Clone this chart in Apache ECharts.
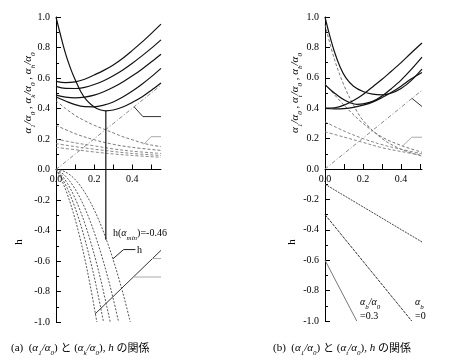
<!DOCTYPE html>
<html><head><meta charset="utf-8">
<script src="https://cdn.jsdelivr.net/npm/echarts@6/dist/echarts.min.js"></script>
<style>html,body{margin:0;padding:0;background:#fff}#c{width:450px;height:361px}</style>
</head><body><div id="c"></div>
<script>
// ---------- axis ticks ----------
const xTicks = [0, 0.1, 0.2, 0.3, 0.4, 0.5];
const xLabels = [0, 0.2, 0.4];
const xMaxA = 0.55, xMaxB = 0.51;

// ---------- panel (a): alpha1/alpha0 (solid) ----------
const aEnv = [[0,1.0],[0.02,0.9],[0.05,0.76],[0.08,0.65],[0.1,0.59],[0.13,0.51],[0.16,0.455],[0.2,0.41],[0.23,0.392],[0.261,0.385],[0.3,0.39],[0.35,0.41],[0.4,0.44],[0.45,0.475],[0.5,0.52],[0.55,0.567]];
const aB1 = [[0,0.578],[0.05,0.57],[0.1,0.575],[0.15,0.592],[0.2,0.62],[0.25,0.65],[0.3,0.686],[0.35,0.73],[0.4,0.781],[0.45,0.835],[0.5,0.893],[0.55,0.953]];
const aB2 = [[0,0.545],[0.05,0.532],[0.1,0.531],[0.15,0.539],[0.2,0.557],[0.25,0.582],[0.3,0.615],[0.35,0.653],[0.4,0.697],[0.45,0.745],[0.5,0.796],[0.55,0.85]];
const aB3 = [[0,0.488],[0.05,0.475],[0.1,0.47],[0.15,0.475],[0.2,0.488],[0.25,0.51],[0.3,0.539],[0.35,0.574],[0.4,0.614],[0.45,0.658],[0.5,0.706],[0.55,0.756]];
const aB4 = [[0,0.475],[0.05,0.449],[0.1,0.425],[0.15,0.412],[0.2,0.411],[0.25,0.422],[0.3,0.443],[0.35,0.475],[0.4,0.514],[0.45,0.559],[0.5,0.609],[0.55,0.663]];
// panel (a): alpha_k/alpha0 (dashed)
const aD1 = [[0,0.45],[0.05,0.4],[0.1,0.355],[0.15,0.32],[0.2,0.29],[0.25,0.265],[0.3,0.24],[0.35,0.215],[0.4,0.195],[0.45,0.175],[0.5,0.16],[0.55,0.15]];
const aD2 = [[0,0.29],[0.1,0.235],[0.2,0.195],[0.3,0.165],[0.4,0.145],[0.55,0.125]];
const aD3 = [[0,0.2],[0.1,0.175],[0.2,0.155],[0.3,0.135],[0.4,0.12],[0.55,0.105]];
const aD4 = [[0,0.17],[0.1,0.15],[0.2,0.133],[0.3,0.118],[0.4,0.105],[0.55,0.092]];
const aD5 = [[0,0.145],[0.1,0.13],[0.2,0.115],[0.3,0.102],[0.4,0.092],[0.55,0.08]];
// panel (a): alpha_h/alpha0 (dash-dot)
const aDD = [[0,0],[0.55,0.553]];
// panel (a): h curves
const aH1 = [[0,0],[0.03,-0.071],[0.06,-0.165],[0.09,-0.281],[0.12,-0.42],[0.15,-0.581],[0.18,-0.765],[0.214,-1.0]];
const aH2 = [[0,0],[0.03,-0.054],[0.06,-0.126],[0.09,-0.217],[0.12,-0.325],[0.15,-0.452],[0.18,-0.597],[0.21,-0.76],[0.249,-1.0]];
const aH3 = [[0,0],[0.03,-0.038],[0.06,-0.092],[0.09,-0.162],[0.12,-0.248],[0.15,-0.35],[0.18,-0.468],[0.21,-0.602],[0.24,-0.753],[0.284,-1.0]];
const aH4 = [[0,0],[0.03,-0.022],[0.06,-0.058],[0.09,-0.108],[0.12,-0.172],[0.15,-0.25],[0.18,-0.342],[0.21,-0.448],[0.24,-0.568],[0.27,-0.701],[0.3,-0.849],[0.328,-1.0]];
const aH5 = [[0,0],[0.03,-0.006],[0.06,-0.024],[0.09,-0.053],[0.12,-0.095],[0.15,-0.149],[0.18,-0.214],[0.21,-0.291],[0.24,-0.38],[0.27,-0.481],[0.3,-0.594],[0.33,-0.719],[0.36,-0.855],[0.389,-1.0]];
// panel (a): min marker and leaders
const aMinLine = [[0.261,0.385],[0.261,-0.46]];
const aLead1 = [[0.41,0.41],[0.455,0.347],[0.55,0.347]];
const aLead2 = [[0.46,0.165],[0.497,0.215],[0.55,0.215]];
const aLeadH = [[0.298,-0.586],[0.354,-0.525],[0.416,-0.525]];
const aDiag = [[0.205,-0.947],[0.55,-0.53]];
const aGray1 = [[0.503,-0.584],[0.55,-0.584]];
const aGray2 = [[0.405,-0.705],[0.55,-0.705]];

// ---------- panel (b) ----------
const bEnv = [[0,1.0],[0.02,0.9],[0.05,0.77],[0.08,0.67],[0.11,0.6],[0.15,0.545],[0.2,0.51],[0.25,0.493],[0.3,0.488],[0.35,0.5],[0.4,0.53],[0.45,0.578],[0.51,0.657]];
const bC1 = [[0,0.4],[0.05,0.403],[0.1,0.42],[0.15,0.45],[0.2,0.49],[0.25,0.54],[0.3,0.59],[0.35,0.645],[0.4,0.7],[0.45,0.76],[0.51,0.829]];
const bC2 = [[0,0.555],[0.03,0.52],[0.06,0.49],[0.1,0.455],[0.13,0.437],[0.167,0.425],[0.2,0.428],[0.25,0.445],[0.3,0.48],[0.35,0.53],[0.4,0.585],[0.45,0.65],[0.51,0.736]];
const bC3 = [[0,0.398],[0.05,0.395],[0.1,0.397],[0.15,0.405],[0.2,0.42],[0.25,0.44],[0.3,0.47],[0.35,0.505],[0.4,0.545],[0.45,0.59],[0.51,0.635]];
const bE1 = [[0,0.95],[0.05,0.72],[0.1,0.55],[0.15,0.42],[0.2,0.32],[0.3,0.2],[0.4,0.13],[0.51,0.085]];
const bE2 = [[0,0.56],[0.1,0.42],[0.2,0.3],[0.3,0.21],[0.4,0.155],[0.51,0.11]];
const bE3 = [[0,0.31],[0.1,0.25],[0.2,0.2],[0.3,0.16],[0.4,0.13],[0.51,0.1]];
const bE4 = [[0,0.245],[0.1,0.21],[0.2,0.175],[0.3,0.14],[0.4,0.115],[0.51,0.09]];
const bDD = [[0,0],[0.51,0.518]];
const bL1 = [[0,-0.1],[0.51,-0.48]];
const bL2 = [[0,-0.3],[0.456,-1.0]];
const bL3 = [[0,-0.6],[0.167,-1.0]];
const bLead1 = [[0.456,0.466],[0.51,0.411]];
const bLead2 = [[0.404,0.147],[0.456,0.209],[0.51,0.209]];

const SERIF = '"Liberation Serif","DejaVu Serif",serif';
function ln(data, g, color, width, type, smooth, z) {
  return {type:'line', xAxisIndex:g, yAxisIndex:g, data:data, symbol:'none', showSymbol:false,
    smooth: smooth ? 0.35 : false, silent:true, animation:false, z: z || 2,
    lineStyle:{color:color, width:width, type:type || 'solid'}};
}
const DASH = [3,2], DASHH = [2,1.5], DOTDASH = [4,2,1,2];

function xAx(g, max, off) {
  return {gridIndex:g, type:'value', position:'bottom', offset:off, min:0, max:max, splitLine:{show:false},
    axisLine:{onZero:false, lineStyle:{color:'#000', width:1}},
    axisTick:{inside:true, length:5, customValues:xTicks, lineStyle:{color:'#000'}},
    axisLabel:{customValues:xLabels, formatter:v=>v.toFixed(1), color:'#000', fontFamily:SERIF, fontSize:10, margin:5}};
}
function yAx(g) {
  return {gridIndex:g, type:'value', min:-1, max:1, interval:0.2, splitLine:{show:false},
    axisLine:{show:true, onZero:false, lineStyle:{color:'#000', width:1}},
    axisTick:{inside:true, length:5, lineStyle:{color:'#000'}},
    minorTick:{show:true, splitNumber:2, length:3, lineStyle:{color:'#000'}},
    axisLabel:{formatter:v=>(Math.abs(v)<1e-9?0:v).toFixed(1), color:'#000', fontFamily:SERIF, fontSize:10, margin:6}};
}

const sub = {fontSize:7, fontFamily:SERIF, fontStyle:'italic', verticalAlign:'bottom', lineHeight:14, padding:[0,0,-2,0]};
const it = {fontSize:11, fontFamily:SERIF, fontStyle:'italic', lineHeight:14};
const nm = {fontSize:11, fontFamily:SERIF, lineHeight:14};
const nm10 = {fontSize:10, fontFamily:SERIF, lineHeight:14};
const it10 = {fontSize:10, fontFamily:SERIF, fontStyle:'italic', lineHeight:14};
const jp = {fontSize:11, fontFamily:'"Noto Sans CJK JP"', lineHeight:14};
const richT = {a:it, s:sub, n:nm, m:nm10, b:it10, j:jp};

function txt(x, y, text, opts) {
  opts = opts || {};
  return {type:'text', x:x, y:y, rotation:opts.rot || 0, silent:true, z:50,
    style:{text:text, rich:richT, fill:'#000', font:'11px ' + SERIF,
      align:opts.align || 'left', verticalAlign:'middle', textAlign:opts.align || 'left', textVerticalAlign:'middle'}};
}

const series = [
  ln(aD1,0,'#777',1,DASH,true), ln(aD2,0,'#777',1,DASH,true), ln(aD3,0,'#888',1,DASH,true), ln(aD4,0,'#888',1,DASH,true), ln(aD5,0,'#888',1,DASH,true),
  ln(aDD,0,'#888',1,DOTDASH,false),
  ln(aEnv,0,'#111',1.2,'solid',true,3), ln(aB1,0,'#111',1.2,'solid',true,3), ln(aB2,0,'#111',1.2,'solid',true,3), ln(aB3,0,'#111',1.2,'solid',true,3), ln(aB4,0,'#111',1.2,'solid',true,3),
  ln(aH1,0,'#555',1,DASHH,true), ln(aH2,0,'#555',1,DASHH,true), ln(aH3,0,'#555',1,DASHH,true), ln(aH4,0,'#555',1,DASHH,true), ln(aH5,0,'#555',1,DASHH,true),
  ln(aMinLine,0,'#111',1.2,'solid',false,4),
  ln(aLead1,0,'#333',1,'solid',false), ln(aLead2,0,'#aaa',1,'solid',false), ln(aLeadH,0,'#222',1,'solid',false),
  ln(aDiag,0,'#333',1,'solid',false), ln(aGray1,0,'#aaa',1,'solid',false), ln(aGray2,0,'#aaa',1,'solid',false),

  ln(bE1,1,'#777',1,DASH,true), ln(bE2,1,'#777',1,DASH,true), ln(bE3,1,'#888',1,DASH,true), ln(bE4,1,'#888',1,DASH,true),
  ln(bDD,1,'#888',1,DOTDASH,false),
  ln(bEnv,1,'#111',1.2,'solid',true,3), ln(bC1,1,'#111',1.2,'solid',true,3), ln(bC2,1,'#111',1.2,'solid',true,3), ln(bC3,1,'#111',1.2,'solid',true,3),
  ln(bL1,1,'#444',1,[2,1],false), ln(bL2,1,'#333',1,[3,1],false), ln(bL3,1,'#777',1,'solid',false),
  ln(bLead1,1,'#333',1,'solid',false), ln(bLead2,1,'#aaa',1,'solid',false)
];

const chart = echarts.init(document.getElementById('c'), null, {renderer:'canvas'});
chart.setOption({
  backgroundColor:'#fff',
  animation:false,
  grid:[{left:56, top:17, width:105, height:305}, {left:325, top:17, width:97, height:304}],
  xAxis:[xAx(0, xMaxA, -152.5), xAx(1, xMaxB, -152)],
  yAxis:[yAx(0), yAx(1)],
  series: series,
  graphic:[
    txt(28, 93, '{a|α}{s|1}{a|/α}{s|0}{n| , }{a|α}{s|k}{a|/α}{s|0}{n| , }{a|α}{s|h}{a|/α}{s|0}', {rot:Math.PI/2, align:'center'}),
    txt(19, 242, '{n|h}', {rot:Math.PI/2, align:'center'}),
    txt(295, 93, '{a|α}{s|1}{a|/α}{s|0}{n| , }{a|α}{s|t}{a|/α}{s|0}{n| , }{a|α}{s|b}{a|/α}{s|0}', {rot:Math.PI/2, align:'center'}),
    txt(292, 242, '{n|h}', {rot:Math.PI/2, align:'center'}),
    txt(113, 233, '{m|h(}{b|α}{s|min}{m|)=-0.46}'),
    txt(137, 250, '{m|h}'),
    txt(360, 302, '{b|α}{s|b}{b|/α}{s|0}'),
    txt(360, 316, '{m|=0.3}'),
    txt(415, 302, '{b|α}{s|b}'),
    txt(415, 316, '{m|=0}'),
    txt(11, 348, '{n|(a)  (}{a|α}{s|1}{a|/α}{s|0}{n|)} {j|と} {n|(}{a|α}{s|k}{a|/α}{s|0}{n|),} {a|h} {j|の関係}'),
    txt(273, 348, '{n|(b)  (}{a|α}{s|1}{a|/α}{s|0}{n|)} {j|と} {n|(}{a|α}{s|t}{a|/α}{s|0}{n|),} {a|h} {j|の関係}')
  ]
});
</script></body></html>
